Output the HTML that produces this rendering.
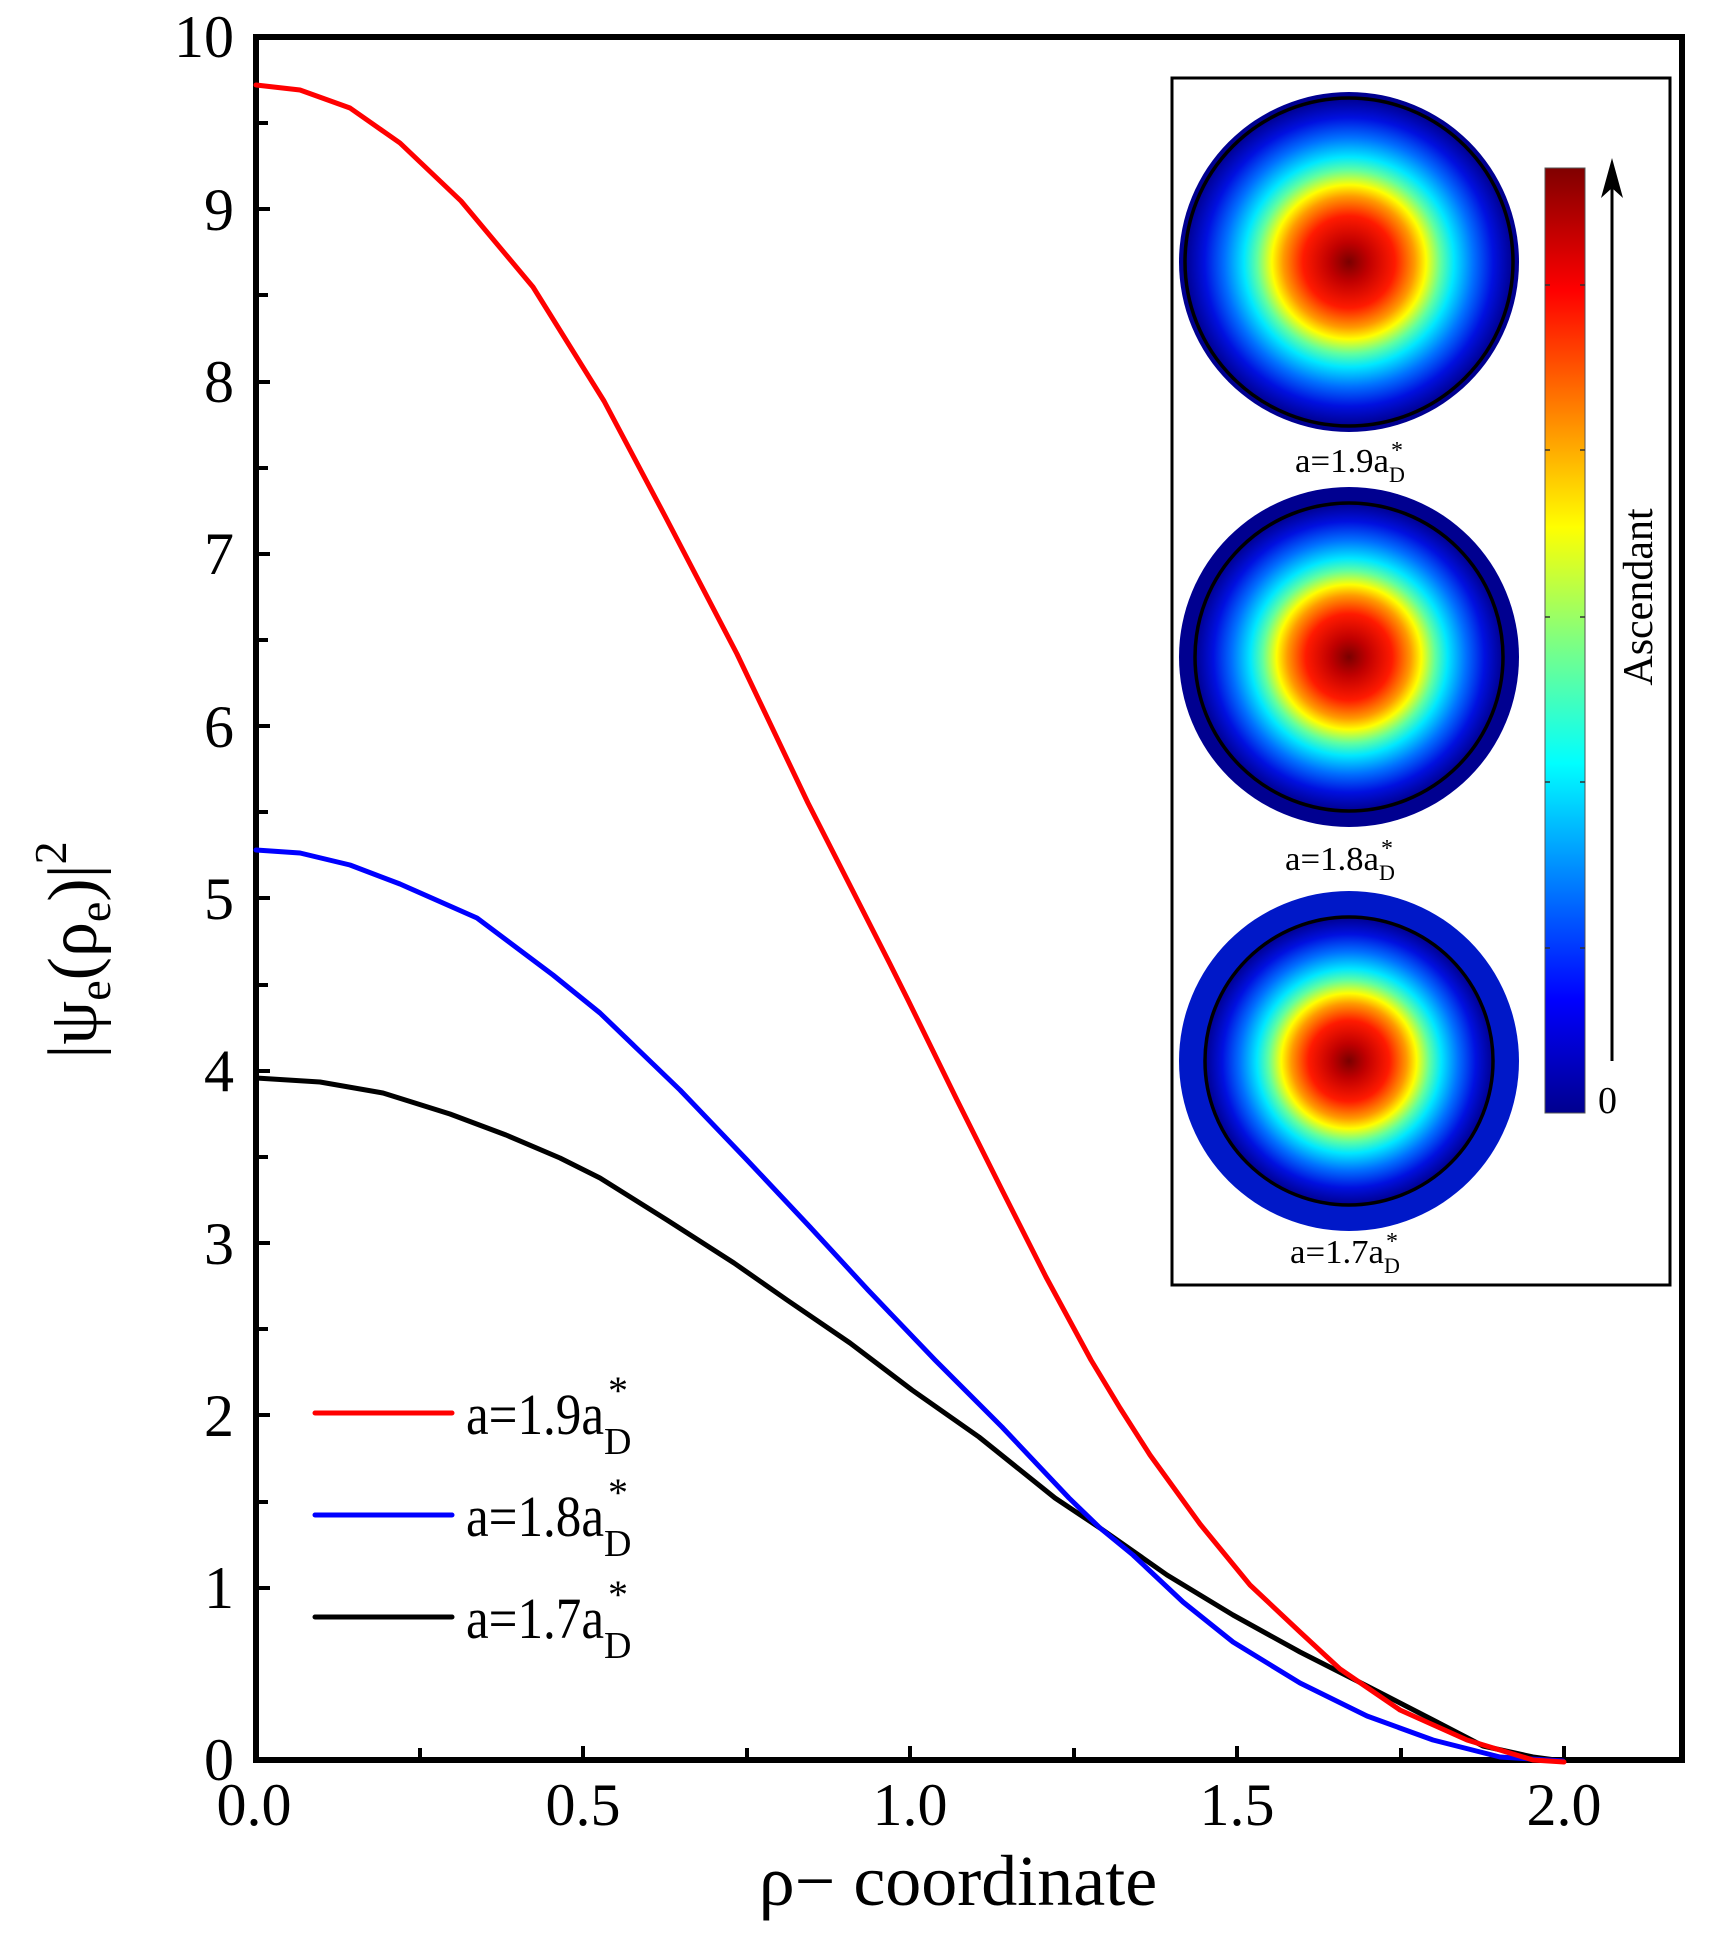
<!DOCTYPE html>
<html><head><meta charset="utf-8"><style>
html,body{margin:0;padding:0;background:#fff;}
svg{display:block;font-family:"Liberation Serif",serif;}
</style></head><body>
<svg width="1721" height="1933" viewBox="0 0 1721 1933" xmlns="http://www.w3.org/2000/svg">
<defs>
<radialGradient id="jet" cx="50%" cy="50%" r="50%">
<stop offset="0" stop-color="#7a0000"/>
<stop offset="0.12" stop-color="#c00000"/>
<stop offset="0.28" stop-color="#ff1a00"/>
<stop offset="0.40" stop-color="#ff9a00"/>
<stop offset="0.47" stop-color="#ffff00"/>
<stop offset="0.56" stop-color="#60ffa0"/>
<stop offset="0.64" stop-color="#00e8ff"/>
<stop offset="0.76" stop-color="#0070ff"/>
<stop offset="0.88" stop-color="#0010e0"/>
<stop offset="1" stop-color="#000090"/>
</radialGradient>
<linearGradient id="cbar" x1="0" y1="1" x2="0" y2="0">
<stop offset="0" stop-color="#00008f"/>
<stop offset="0.12" stop-color="#0000ff"/>
<stop offset="0.37" stop-color="#00ffff"/>
<stop offset="0.5" stop-color="#80ff80"/>
<stop offset="0.62" stop-color="#ffff00"/>
<stop offset="0.87" stop-color="#ff0000"/>
<stop offset="1" stop-color="#800000"/>
</linearGradient>
</defs>

<rect x="256" y="37" width="1426" height="1723" fill="none" stroke="#000" stroke-width="6"/>

<g stroke="#000" stroke-width="4">
<path d="M256 1588h14M256 1502h12M256 1415h14M256 1329h12M256 1243h14M256 1157h12M256 1071h14M256 985h12M256 898h14M256 812h12M256 726h14M256 640h12M256 554h14M256 468h12M256 382h14M256 295h12M256 209h14M256 123h12"/>
<path d="M420 1760v-12M583 1760v-14M747 1760v-12M910 1760v-14M1074 1760v-12M1237 1760v-14M1401 1760v-12M1564 1760v-14"/>
</g>

<g font-size="60" text-anchor="end" fill="#000">
<text x="234" y="57">10</text>
<text x="234" y="230">9</text>
<text x="234" y="402">8</text>
<text x="234" y="574">7</text>
<text x="234" y="747">6</text>
<text x="234" y="919">5</text>
<text x="234" y="1091">4</text>
<text x="234" y="1264">3</text>
<text x="234" y="1436">2</text>
<text x="234" y="1608">1</text>
<text x="234" y="1780">0</text>
</g>
<g font-size="60" text-anchor="middle" fill="#000">
<text x="254" y="1825">0.0</text>
<text x="583" y="1825">0.5</text>
<text x="910" y="1825">1.0</text>
<text x="1237" y="1825">1.5</text>
<text x="1564" y="1825">2.0</text>
</g>
<text x="958" y="1905" font-size="72" text-anchor="middle">ρ− coordinate</text>
<g transform="translate(96,950) rotate(-90)">
<text x="0" y="0" font-size="70" text-anchor="middle">|ψ<tspan font-size="46" dy="14">e</tspan><tspan dy="-14">(ρ</tspan><tspan font-size="46" dy="14">e</tspan><tspan dy="-14">)|</tspan><tspan font-size="46" dy="-30">2</tspan></text>
</g>

<g fill="none" stroke-width="5" stroke-linejoin="round" stroke-linecap="round">
<polyline stroke="#000" points="256,1078 320,1082 383,1093 450,1114 506,1135 560,1158 600,1178 667,1220 734,1263 787,1300 850,1343 912,1390 979,1437 1055,1498 1100,1528 1167,1575 1233,1615 1300,1652 1367,1686 1433,1720 1483,1746 1533,1757 1563,1761"/>
<polyline stroke="#00f" points="256,850 300,853 350,865 400,884 477,918 553,975 600,1013 680,1090 747,1160 810,1227 868,1290 935,1360 1002,1427 1069,1498 1100,1528 1133,1555 1183,1602 1233,1642 1300,1683 1367,1716 1433,1740 1500,1757 1563,1761"/>
<polyline stroke="#f00" points="256,85 300,90 350,108 400,143 461,201 533,287 604,401 665,516 737,654 808,803 890,964 908,1000 957,1100 1002,1190 1046,1277 1091,1360 1120,1408 1150,1455 1200,1524 1250,1585 1300,1632 1340,1669 1400,1710 1467,1740 1533,1760 1564,1762"/>
</g>

<g stroke-width="5" stroke-linecap="round">
<line x1="315" y1="1413" x2="452" y2="1413" stroke="#f00"/>
<line x1="315" y1="1515" x2="452" y2="1515" stroke="#00f"/>
<line x1="315" y1="1617" x2="452" y2="1617" stroke="#000"/>
</g>
<g font-size="58">
<text x="466" y="1434" textLength="138" lengthAdjust="spacingAndGlyphs">a=1.9a</text><text x="604" y="1454" font-size="38">D</text><text x="608" y="1404" font-size="40">*</text>
<text x="466" y="1536" textLength="138" lengthAdjust="spacingAndGlyphs">a=1.8a</text><text x="604" y="1556" font-size="38">D</text><text x="608" y="1506" font-size="40">*</text>
<text x="466" y="1638" textLength="138" lengthAdjust="spacingAndGlyphs">a=1.7a</text><text x="604" y="1658" font-size="38">D</text><text x="608" y="1608" font-size="40">*</text>
</g>

<rect x="1172" y="78" width="498" height="1207" fill="#fff" stroke="#000" stroke-width="3"/>
<circle cx="1349" cy="262" r="170" fill="#000090"/>
<circle cx="1349" cy="262" r="164" fill="url(#jet)" stroke="#000" stroke-width="3.5"/>
<circle cx="1349" cy="657" r="170" fill="#000090"/>
<circle cx="1349" cy="657" r="154" fill="url(#jet)" stroke="#000" stroke-width="3.5"/>
<circle cx="1349" cy="1061" r="170" fill="#0018c8"/>
<circle cx="1349" cy="1061" r="144" fill="url(#jet)" stroke="#000" stroke-width="3.5"/>
<g font-size="34">
<text x="1295" y="472" textLength="94" lengthAdjust="spacingAndGlyphs">a=1.9a</text><text x="1389" y="482" font-size="22">D</text><text x="1391" y="458" font-size="24">*</text>
<text x="1285" y="870" textLength="94" lengthAdjust="spacingAndGlyphs">a=1.8a</text><text x="1379" y="880" font-size="22">D</text><text x="1381" y="856" font-size="24">*</text>
<text x="1290" y="1263" textLength="94" lengthAdjust="spacingAndGlyphs">a=1.7a</text><text x="1384" y="1273" font-size="22">D</text><text x="1386" y="1249" font-size="24">*</text>
</g>
<rect x="1545" y="168" width="40" height="945" fill="url(#cbar)" stroke="#555" stroke-width="1"/>
<g stroke="#333" stroke-width="1.5">
<path d="M1545 285h5M1580 285h5M1545 450h5M1580 450h5M1545 617h5M1580 617h5M1545 782h5M1580 782h5M1545 948h5M1580 948h5"/>
</g>
<line x1="1612" y1="1061" x2="1612" y2="175" stroke="#000" stroke-width="3"/>
<path d="M1601 198 L1612 158 L1623 198 L1612 188 Z" fill="#000"/>
<text x="1598" y="1113" font-size="38">0</text>
<text transform="translate(1652,597) rotate(-90)" font-size="42" text-anchor="middle">Ascendant</text>
</svg>
</body></html>
